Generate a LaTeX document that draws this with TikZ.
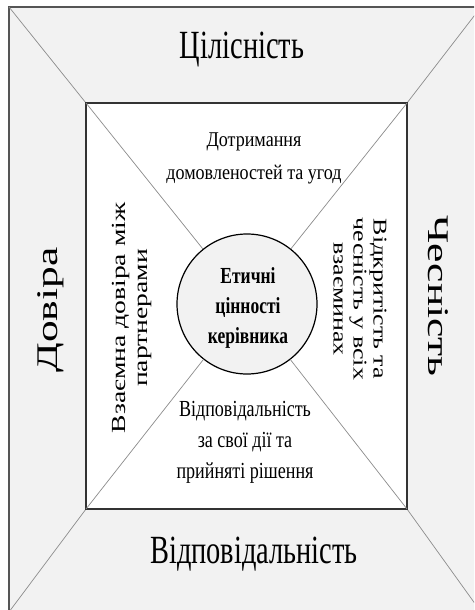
\documentclass[tikz,border=0pt]{standalone}
\usepackage{fontspec}
\setmainfont{Liberation Serif}
\newfontfamily\bignarrowfont[FakeStretch=0.71]{Liberation Serif}
\newfontfamily\narrowfont[FakeStretch=0.86]{Liberation Serif}
\newfontfamily\dutyfont[FakeStretch=0.785]{Liberation Serif}
\newfontfamily\corefont[FakeStretch=0.76]{Liberation Serif}
\newfontfamily\widefont[FakeStretch=1.45]{Liberation Serif}
\newfontfamily\midwidefont[FakeStretch=1.38]{Liberation Serif}
\newfontfamily\openfont[FakeStretch=1.33]{Liberation Serif}
\definecolor{panelgray}{HTML}{F2F2F2}
\definecolor{framegray}{HTML}{555555}
\definecolor{linegray}{HTML}{8C8C8C}

\begin{document}
\begin{tikzpicture}[x=1pt, y=-1pt, every node/.style={inner sep=0pt, align=center}]
  \useasboundingbox (0,0) rectangle (474,610);
  \clip (0,0) rectangle (474,610);

  % corners
  \coordinate (OTL) at (9,7);
  \coordinate (OTR) at (481,7);
  \coordinate (OBR) at (481,612);
  \coordinate (OBL) at (9,612);
  \coordinate (ITL) at (86,103);
  \coordinate (ITR) at (407,103);
  \coordinate (IBR) at (407,509);
  \coordinate (IBL) at (86,509);

  % outer frame
  \fill[panelgray] (OTL) rectangle (OBR);
  \draw[framegray, line width=1.6pt] (OTL) rectangle (OBR);
  \draw[linegray, line width=0.7pt] (OTL) -- (ITL);
  \draw[linegray, line width=0.7pt] (OTR) -- (ITR);
  \draw[linegray, line width=0.7pt] (OBR) -- (IBR);
  \draw[linegray, line width=0.7pt] (OBL) -- (IBL);

  % inner square
  \fill[white] (ITL) rectangle (IBR);
  \draw[black!80, line width=1.6pt] (ITL) rectangle (IBR);

  % centre
  \node[circle, draw, line width=1.2pt, fill=panelgray, minimum size=140pt] (core) at (247,304) {};
  \draw[linegray, line width=0.7pt] (ITL) -- (core);
  \draw[linegray, line width=0.7pt] (ITR) -- (core);
  \draw[linegray, line width=0.7pt] (IBR) -- (core);
  \draw[linegray, line width=0.7pt] (IBL) -- (core);
  \node[font={\corefont\bfseries\fontsize{23}{30}\selectfont}] (values) at (248,308)
    {Етичні\\цінності\\керівника};

  % outer labels
  \node[font={\bignarrowfont\fontsize{40}{44}\selectfont}] (integrity) at (242,50) {Цілісність};
  \node[font={\bignarrowfont\fontsize{40}{44}\selectfont}] (responsibility) at (254,554) {Відповідальність};
  \node[rotate=90, font={\widefont\fontsize{30}{36}\selectfont}] (trust) at (51,310) {Довіра};
  \node[rotate=-90, font={\widefont\fontsize{30}{36}\selectfont}] (honesty) at (438,296) {Чесність};

  % inner labels
  \node[font={\narrowfont\fontsize{21}{33}\selectfont}] (agreements) at (254,158)
    {Дотримання\\домовленостей та угод};
  \node[rotate=90, font={\midwidefont\fontsize{20}{22}\selectfont}] (partners) at (132,318)
    {Взаємна довіра між\\партнерами};
  \node[rotate=-90, font={\openfont\fontsize{19.5}{20}\selectfont}] (openness) at (360,299)
    {Відкритість та\\чесність у всіх\\взаєминах};
  \node[font={\dutyfont\fontsize{23}{31}\selectfont}] (duty) at (245,442)
    {Відповідальність\\за свої дії та\\прийняті рішення};
\end{tikzpicture}
\end{document}
